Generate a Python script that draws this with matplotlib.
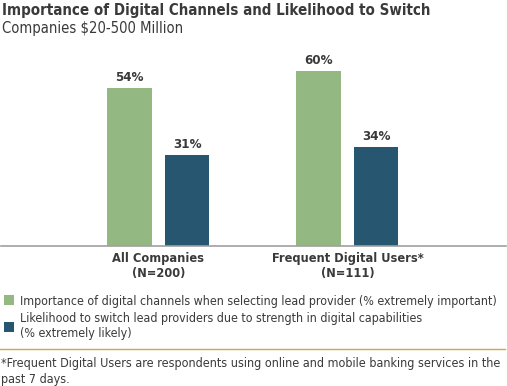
import matplotlib
matplotlib.use("Agg")
import matplotlib.pyplot as plt
from matplotlib.lines import Line2D

# data
groups = ["All Companies\n(N=200)", "Frequent Digital Users*\n(N=111)"]
importance = [54, 60]
switching = [31, 34]
series_labels = [
    "Importance of digital channels when selecting lead provider (% extremely important)",
    "Likelihood to switch lead providers due to strength in digital capabilities\n(% extremely likely)",
]
title = "Importance of Digital Channels and Likelihood to Switch"
subtitle = "Companies $20-500 Million"
footnote = ("*Frequent Digital Users are respondents using online and mobile banking services in the\n"
            "past 7 days.")

GREEN = "#93b882"
BLUE = "#265670"
TEXT = "#3a3a3a"
W, H = 507, 386

plt.rcParams["font.family"] = ["DejaVu Sans"]
plt.rcParams["font.stretch"] = "condensed"

fig = plt.figure(figsize=(W / 100, H / 100), dpi=100)

def fx(px):
    return px / W

def fy(py):
    return 1 - py / H

# plot area: baseline at y=246px, top at y=60px
ax = fig.add_axes([fx(1), fy(246), fx(505), (246 - 60) / H])
x = [0, 1]
bw = 0.233
off = 0.153
b1 = ax.bar([i - off for i in x], importance, bw, color=GREEN, label=series_labels[0])
b2 = ax.bar([i + off for i in x], switching, bw, color=BLUE, label=series_labels[1])
for bars in (b1, b2):
    for rect in bars:
        h = rect.get_height()
        ax.annotate(f"{h:.0f}%", (rect.get_x() + rect.get_width() / 2, h),
                    xytext=(0, 3), textcoords="offset points", ha="center", va="bottom",
                    fontsize=9.5, fontweight="bold", color=TEXT)

ax.set_xlim(-0.833, 1.839)
ax.set_ylim(0, 63.7)
ax.set_xticks(x)
ax.set_xticklabels(groups, fontsize=9.2, fontweight="bold", color=TEXT, linespacing=1.2)
ax.tick_params(axis="x", length=0, pad=4)
ax.set_yticks([])
for s in ["top", "left", "right"]:
    ax.spines[s].set_visible(False)
ax.spines["bottom"].set_color("#a0a0a0")
ax.spines["bottom"].set_linewidth(1.2)

fig.text(fx(2), fy(11), title, fontsize=10.8, fontweight="bold", color=TEXT, va="center")
fig.text(fx(2), fy(29), subtitle, fontsize=10.6, color=TEXT, va="center")

fig.legend(handles=[b1, b2], labels=series_labels, loc="upper left",
           bbox_to_anchor=(fx(-5), fy(286)), frameon=False, fontsize=8.9,
           handlelength=0.85, handleheight=0.85, handletextpad=0.45,
           labelspacing=0.35, labelcolor=TEXT, borderpad=0.2)

fig.add_artist(Line2D([0, fx(505)], [fy(349), fy(349)], color="#cdab3a", lw=1))
fig.text(fx(1), fy(357), footnote, fontsize=9.0, color=TEXT, va="top", linespacing=1.3)

fig.savefig("out.png", dpi=100)
